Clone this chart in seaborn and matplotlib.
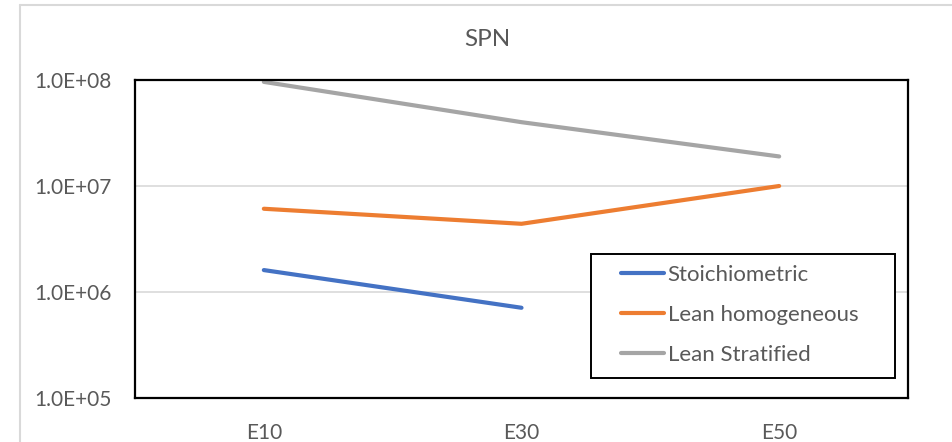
import numpy as np
import pandas as pd
import matplotlib
matplotlib.use("Agg")
import matplotlib.pyplot as plt
from matplotlib.lines import Line2D
from matplotlib.patches import Rectangle
from matplotlib.ticker import FixedLocator, FuncFormatter, NullLocator
import seaborn as sns

# Data
categories = ["E10", "E30", "E50"]
stoichiometric = [1.61e6, 7.1e5, np.nan]
lean_homogeneous = [6.1e6, 4.4e6, 1.0e7]
lean_stratified = [9.6e7, 4.0e7, 1.9e7]
series_names = ["Stoichiometric", "Lean homogeneous", "Lean Stratified"]
y_ticks = [1e5, 1e6, 1e7, 1e8]

colors = ["#4472C4", "#ED7D31", "#A5A5A5"]

rows = []
for name, vals in zip(series_names, [stoichiometric, lean_homogeneous, lean_stratified]):
    for i, (cat, v) in enumerate(zip(categories, vals)):
        rows.append({"pos": i, "category": cat, "value": v, "series": name})
df = pd.DataFrame(rows).dropna()

sns.set_theme(style="white")
plt.rcParams["font.family"] = ["Lato", "DejaVu Sans"]
text_color = "#595959"

fig = plt.figure(figsize=(9.53, 4.42), dpi=100)
W, H = 953, 442
L, R, T, B = 135, 908, 80, 398
ax = fig.add_axes([L / W, 1 - B / H, (R - L) / W, (B - T) / H])


def ax_frac(px, py):
    return (px - L) / (R - L), (B - py) / (B - T)


# Outer chart frame (light gray)
fig.add_artist(Line2D([20 / W, 20 / W], [0, 1 - 5 / H], transform=fig.transFigure,
                      color="#D9D9D9", lw=1.5))
fig.add_artist(Line2D([20 / W, 1], [1 - 5 / H, 1 - 5 / H], transform=fig.transFigure,
                      color="#D9D9D9", lw=1.5))

sns.lineplot(data=df, x="pos", y="value", hue="series", hue_order=series_names,
             palette=colors, linewidth=3, ax=ax, legend=False, sort=False)

ax.set_yscale("log")
ax.set_ylim(1e5, 1e8)
ax.set_xlim(-0.5, 2.5)
ax.yaxis.set_major_locator(FixedLocator(y_ticks))
ax.yaxis.set_minor_locator(NullLocator())
ax.yaxis.set_major_formatter(FuncFormatter(lambda v, p: f"{v:.1E}"))
ax.set_xticks(range(len(categories)))
ax.set_xticklabels(categories)
ax.set_xlabel("")
ax.set_ylabel("")
ax.grid(axis="y", color="#D9D9D9", linewidth=1.2)
ax.set_axisbelow(True)
for s in ax.spines.values():
    s.set_visible(True)
    s.set_color("black")
    s.set_linewidth(1.6)
ax.tick_params(axis="both", length=0, labelsize=15, labelcolor=text_color)
ax.tick_params(axis="y", pad=17)
ax.tick_params(axis="x", pad=18)

fig.text(487 / W, 1 - 39 / H, "SPN", ha="center", va="center", fontsize=17.5, color=text_color)

# Legend box
x0, y0 = ax_frac(591, 378)
x1, y1 = ax_frac(895, 254)
ax.add_patch(Rectangle((x0, y0), x1 - x0, y1 - y0, transform=ax.transAxes,
                       facecolor="white", edgecolor="black", lw=1.4, zorder=5))

handles = [Line2D([], [], color=c, lw=3) for c in colors]
lx, ly = ax_frac(621, 265)
leg = ax.legend(handles, series_names, loc="upper left", bbox_to_anchor=(lx, ly),
                frameon=False, fontsize=16, handlelength=1.95, handletextpad=0.15,
                labelspacing=0.9, borderpad=0, borderaxespad=0)
leg.set_zorder(6)
for t in leg.get_texts():
    t.set_color(text_color)

fig.savefig("out.png", dpi=100)
